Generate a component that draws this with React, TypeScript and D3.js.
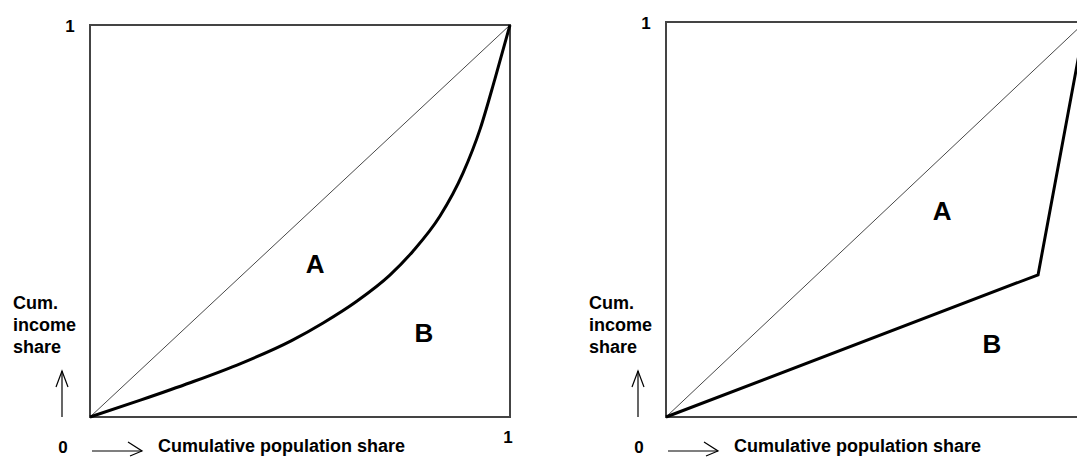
// Lorenz curve diagrams — two panels, smooth curve vs. piecewise-linear curve
import * as d3 from 'd3';

// left panel: smooth Lorenz curve (population share, income share)
const curvePop = [0, 0.12, 0.24, 0.36, 0.48, 0.555, 0.636, 0.714, 0.769, 0.833, 0.888, 0.929, 0.964, 1];
const curveInc = [0, 0.043, 0.088, 0.137, 0.195, 0.24, 0.296, 0.362, 0.423, 0.512, 0.622, 0.735, 0.862, 1];

// right panel: two-segment Lorenz curve
const kinkPop = [0, 0.888, 1];
const kinkInc = [0, 0.36, 1];

const equality = [0, 1];

// area labels [left panel, right panel]
const areaNames = ['A', 'B'];
const areaPopLeft = [0.536, 0.795];
const areaIncLeft = [0.367, 0.191];
const areaPopRight = [0.659, 0.778];
const areaIncRight = [0.499, 0.162];

const yLabelLines = ['Cum.', 'income', 'share'];
const xLabel = 'Cumulative population share';

const W = 1077, H = 457;
const font = "'Liberation Sans', Arial, sans-serif";

type PanelProps = {
  x0: number; y0: number; w: number; h: number;
  pop: number[]; inc: number[]; curved: boolean;
  aPop: number[]; aInc: number[]; showRightOne: boolean;
};

function Panel({ x0, y0, w, h, pop, inc, curved, aPop, aInc, showRightOne }: PanelProps) {
  const x = d3.scaleLinear().domain([0, 1]).range([x0, x0 + w]);
  const y = d3.scaleLinear().domain([0, 1]).range([y0 + h, y0]);
  const y1 = y(0);

  const pts = pop.map((p, i) => [p, inc[i]] as [number, number]);
  const lorenz = d3.line<[number, number]>()
    .x(d => x(d[0])).y(d => y(d[1]))
    .curve(curved ? d3.curveMonotoneX : d3.curveLinear);
  const diag = d3.line<number>().x(d => x(d)).y(d => y(d));

  const ax = x0 - 28;            // vertical arrow x
  const hy = y1 + 34;            // horizontal arrow y

  return (
    <g>
      <rect x={x0} y={y0} width={w} height={h} fill="none" stroke="#444" strokeWidth={2} />
      <path d={diag(equality) ?? ''} fill="none" stroke="#333" strokeWidth={0.9} />
      <path d={lorenz(pts) ?? ''} fill="none" stroke="#000" strokeWidth={3} strokeLinejoin="miter" />

      {areaNames.map((n, i) => (
        <text key={n} x={x(aPop[i])} y={y(aInc[i])} textAnchor="middle"
          fontFamily={font} fontWeight="bold" fontSize={26} fill="#000">{n}</text>
      ))}

      <g fontFamily={font} fontWeight="bold" fontSize={17} fill="#000">
        <text x={x0 - 20} y={y0 + 7} textAnchor="middle">1</text>
        <text x={x0 - 27} y={y1 + 36} textAnchor="middle">0</text>
        {showRightOne && <text x={x(1) - 2} y={y1 + 26} textAnchor="middle">1</text>}
      </g>

      <g fontFamily={font} fontWeight="bold" fontSize={18} fill="#000">
        {yLabelLines.map((t, i) => (
          <text key={t} x={x0 - 77} y={y1 - 108 + i * 22}>{t}</text>
        ))}
        <text x={x0 + 68} y={y1 + 35}>{xLabel}</text>
      </g>

      {/* up arrow */}
      <g stroke="#000" strokeWidth={1.2} fill="none">
        <line x1={ax} y1={y1} x2={ax} y2={y1 - 46} />
        <polyline points={`${ax - 6},${y1 - 30} ${ax},${y1 - 46} ${ax + 6},${y1 - 30}`} />
        {/* right arrow */}
        <line x1={x0 + 2} y1={hy} x2={x0 + 52} y2={hy} />
        <polyline points={`${x0 + 38},${hy - 9} ${x0 + 52},${hy} ${x0 + 40},${hy + 5}`} />
      </g>
    </g>
  );
}

export default function App() {
  return (
    <svg width={W} height={H} style={{ position: 'absolute', left: 0, top: 0, background: '#fff' }}>
      <rect width={W} height={H} fill="#fff" />
      <Panel x0={90} y0={25} w={420} h={392} pop={curvePop} inc={curveInc} curved
        aPop={areaPopLeft} aInc={areaIncLeft} showRightOne />
      <Panel x0={666} y0={22} w={419} h={395} pop={kinkPop} inc={kinkInc} curved={false}
        aPop={areaPopRight} aInc={areaIncRight} showRightOne={false} />
    </svg>
  );
}
